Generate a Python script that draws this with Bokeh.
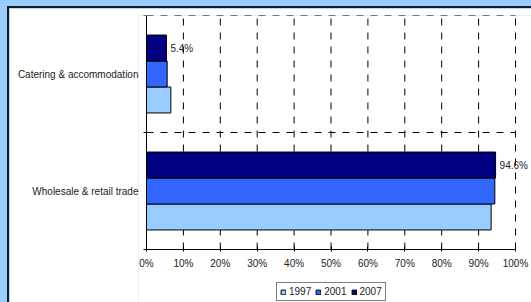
from bokeh.plotting import figure
from bokeh.layouts import column, row
from bokeh.models import Range1d, FixedTicker, Legend, LegendItem, Spacer
from bokeh.core.properties import value
from bokeh.embed import file_html
from bokeh.resources import INLINE

categories = ["Wholesale & retail trade", "Catering & accommodation"]
years = ["1997", "2001", "2007"]
v1997 = [93.4, 6.6]
v2001 = [94.4, 5.6]
v2007 = [94.6, 5.4]
x_ticks = list(range(0, 101, 10))
x_tick_labels = [f"{t}%" for t in x_ticks]

series = [v1997, v2001, v2007]
colors = ["#99CCFF", "#3366FF", "#000080"]
FONT = "Liberation Sans"
N = len(categories)
BAR_H = 0.222
PX_PER_100 = 369.0          # pixels for 0..100 %
PX_PER_CAT = 117.0          # pixels per category band
LEFT_PAD_PX = 8             # room left of 0 % so the "0%" label is not clipped
BORDER_LEFT = 129
FRAME_W = 531 - 9 - BORDER_LEFT
FRAME_H = 287
X_MIN = -LEFT_PAD_PX / PX_PER_100 * 100
X_MAX = X_MIN + FRAME_W / PX_PER_100 * 100
Y_MIN = -(FRAME_H - PX_PER_CAT * N) / PX_PER_CAT
TICK_LEN = 3 / PX_PER_100 * 100

p = figure(frame_width=FRAME_W, frame_height=FRAME_H,
           min_border_left=BORDER_LEFT, min_border_right=0, min_border_top=7, min_border_bottom=0,
           output_backend="svg", toolbar_location=None,
           x_range=Range1d(X_MIN, X_MAX), y_range=Range1d(Y_MIN, N))
p.styles = {"outline": "2px solid #1a1a1a"}
p.background_fill_color = "white"
p.border_fill_color = "white"
p.outline_line_color = None

# dashed grid: vertical lines at x ticks, horizontal at category boundaries
grid_x = [t for t in x_ticks if t > 0]
p.segment(x0=grid_x, x1=grid_x, y0=[0] * len(grid_x), y1=[N] * len(grid_x),
          line_color="#000000", line_dash="7 7", line_width=1)
bounds_y = list(range(1, N + 1))
p.segment(x0=[0] * len(bounds_y), x1=[100] * len(bounds_y), y0=bounds_y, y1=bounds_y,
          line_color="#000000", line_dash="7 7", line_width=1)

# category axis line at 0 % with boundary ticks
all_bounds = list(range(N + 1))
p.segment(x0=[0], x1=[0], y0=[0], y1=[N], line_color="black", line_width=1)
p.segment(x0=[-TICK_LEN] * len(all_bounds), x1=[0] * len(all_bounds),
          y0=all_bounds, y1=all_bounds, line_color="black", line_width=1)

renderers = []
for i, (vals, col) in enumerate(zip(series, colors)):
    offset = (i - 1) * BAR_H
    ys = [k + 0.5 + offset for k in range(N)]
    r = p.hbar(y=ys, right=vals, left=0, height=BAR_H, fill_color=col,
               line_color="black", line_width=1)
    renderers.append(r)
    if i == len(series) - 1:
        p.text(x=vals, y=ys, text=[f"{v}%" for v in vals], x_offset=4,
               text_baseline="middle", text_align="left", text_font=value(FONT),
               text_font_size="10px", text_color="#222222")

# x axis, drawn at y = 0
xt = FixedTicker(ticks=x_ticks)
p.xaxis.ticker = xt
p.xaxis.fixed_location = 0
p.xaxis.bounds = (0, 100)
p.xaxis.major_label_overrides = {t: l for t, l in zip(x_ticks, x_tick_labels)}
p.xaxis.major_tick_in = 3
p.xaxis.major_tick_out = 2
p.xaxis.minor_tick_line_color = None
p.xaxis.major_label_standoff = 6
p.xaxis.axis_line_color = "black"
p.xaxis.major_tick_line_color = "black"
p.xaxis.major_label_text_font = FONT
p.xaxis.major_label_text_font_size = "10px"
p.xaxis.major_label_text_color = "#222222"

# y axis: only the category labels (line and ticks drawn at 0 % above)
yt = FixedTicker(ticks=[k + 0.5 for k in range(N)], minor_ticks=[])
p.yaxis.ticker = yt
p.yaxis.major_label_overrides = {k + 0.5: c for k, c in enumerate(categories)}
p.yaxis.axis_line_color = None
p.yaxis.major_tick_line_color = None
p.yaxis.minor_tick_line_color = None
p.yaxis.major_tick_in = 0
p.yaxis.major_tick_out = 0
p.yaxis.major_label_standoff = 0
p.yaxis.major_label_text_font = FONT
p.yaxis.major_label_text_font_size = "10px"
p.yaxis.major_label_text_color = "#222222"

p.xgrid.grid_line_color = None
p.ygrid.grid_line_color = None

legend = Legend(items=[LegendItem(label=y, renderers=[r]) for y, r in zip(years, renderers)],
                orientation="horizontal", location=(276 - 9 - BORDER_LEFT, 1),
                border_line_color="black", border_line_width=1,
                background_fill_color="white", background_fill_alpha=1,
                padding=3, spacing=4, margin=0,
                glyph_width=6, glyph_height=6, label_standoff=3, label_height=10,
                label_text_font=FONT, label_text_font_size="10px",
                label_text_color="#222222")
p.add_layout(legend, "center")

layout = column(Spacer(width=531, height=8),
                row(Spacer(width=9, height=294), p, spacing=0),
                spacing=0, styles={"background-color": "#99CCFF"})

open("out.html", "w").write(file_html(layout, INLINE))
